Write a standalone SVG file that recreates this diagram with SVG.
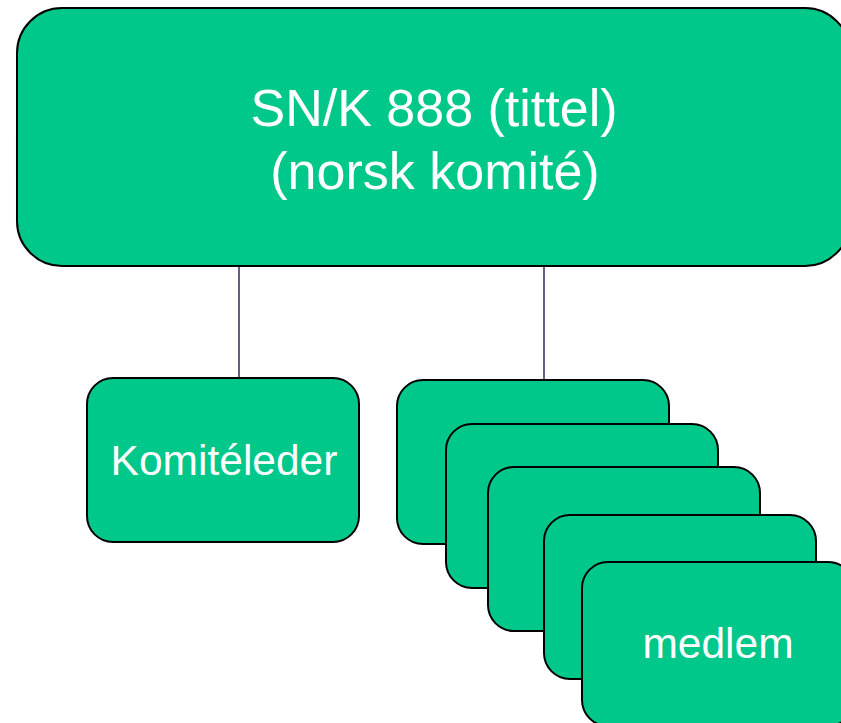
<svg xmlns="http://www.w3.org/2000/svg" width="841" height="723" viewBox="0 0 841 723">
<style>
.box{fill:#00C78A;stroke:#000;stroke-width:2}
.t{fill:#fff;font-family:"Liberation Sans",Arial,sans-serif;text-anchor:middle}
.c{stroke:#0c0c44;stroke-width:1.3;fill:none}
</style>
<rect width="841" height="723" fill="#fff"/>
<g id="connectors">
<line class="c" x1="239" y1="266" x2="239" y2="379"/>
<line class="c" x1="544" y1="266" x2="544" y2="381"/>
</g>
<g id="title">
<rect class="box" x="17" y="8" width="833" height="258" rx="45" ry="45"/>
<text class="t" x="434" y="126" font-size="52">SN/K 888 (tittel)</text>
<text class="t" x="435" y="189" font-size="52">(norsk komité)</text>
</g>
<g id="leder">
<rect class="box" x="87" y="378" width="272" height="164" rx="26" ry="26"/>
<text class="t" x="224" y="475" font-size="42.5">Komitéleder</text>
</g>
<g id="medlem1"><rect class="box" x="397" y="380" width="272" height="164" rx="26" ry="26"/></g>
<g id="medlem2"><rect class="box" x="446" y="424" width="272" height="164" rx="26" ry="26"/></g>
<g id="medlem3"><rect class="box" x="488" y="467" width="272" height="164" rx="26" ry="26"/></g>
<g id="medlem4"><rect class="box" x="544" y="515" width="272" height="164" rx="26" ry="26"/></g>
<g id="medlem5">
<rect class="box" x="582" y="562" width="272" height="164" rx="26" ry="26"/>
<text class="t" x="718" y="658" font-size="42.5">medlem</text>
</g>
</svg>
